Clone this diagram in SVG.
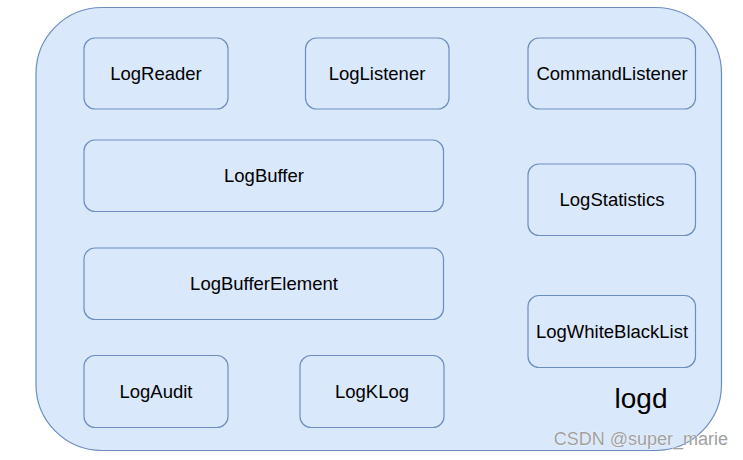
<svg xmlns="http://www.w3.org/2000/svg" width="743" height="460" viewBox="0 0 743 460">
<style>
.box{fill:#dae8fc;stroke:#6c8ebf;stroke-width:1.2}
.lbl{font-family:"Liberation Sans",Arial,sans-serif;font-size:18.5px;fill:#000;text-anchor:middle}
</style>
<rect width="743" height="460" fill="#fff"/>
<g id="logd">
<rect class="box" x="36" y="7.5" width="685.5" height="443" rx="66" ry="66"/>
<text x="641" y="408" style="font-family:'Liberation Sans',Arial,sans-serif;font-size:28px;text-anchor:middle">logd</text>
</g>
<g id="LogReader"><rect class="box" x="84" y="38" width="144" height="71" rx="11"/><text class="lbl" x="156" y="80">LogReader</text></g>
<g id="LogListener"><rect class="box" x="305.5" y="38" width="143.5" height="71" rx="11"/><text class="lbl" x="377" y="80">LogListener</text></g>
<g id="CommandListener"><rect class="box" x="528" y="38" width="167.5" height="71" rx="11"/><text class="lbl" x="612" y="80">CommandListener</text></g>
<g id="LogBuffer"><rect class="box" x="84" y="140" width="359.5" height="71.5" rx="11"/><text class="lbl" x="264" y="182">LogBuffer</text></g>
<g id="LogStatistics"><rect class="box" x="528" y="164" width="167.5" height="71.5" rx="11"/><text class="lbl" x="612" y="206">LogStatistics</text></g>
<g id="LogBufferElement"><rect class="box" x="84" y="248" width="359.5" height="71.5" rx="11"/><text class="lbl" x="264" y="290">LogBufferElement</text></g>
<g id="LogWhiteBlackList"><rect class="box" x="528" y="295.5" width="167.5" height="72" rx="11"/><text class="lbl" x="612" y="338">LogWhiteBlackList</text></g>
<g id="LogAudit"><rect class="box" x="84" y="355.5" width="144" height="72" rx="11"/><text class="lbl" x="156" y="398">LogAudit</text></g>
<g id="LogKLog"><rect class="box" x="300" y="355.5" width="144" height="72" rx="11"/><text class="lbl" x="372" y="398">LogKLog</text></g>
<g id="connectors"/>
<text x="728" y="445" style="font-family:'Liberation Sans',Arial,sans-serif;font-size:18px;text-anchor:end;fill:#a0a0a0;stroke:#fff;stroke-width:0.6;paint-order:stroke">CSDN @super_marie</text>
</svg>
